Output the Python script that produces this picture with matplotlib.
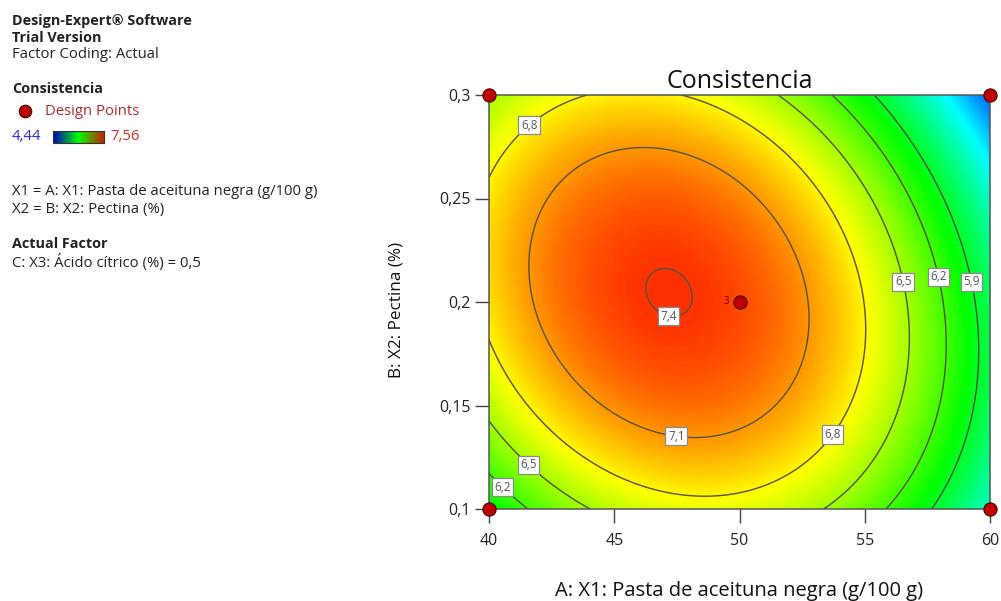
import matplotlib
matplotlib.use('Agg')
import matplotlib.pyplot as plt
import numpy as np
from matplotlib.colors import LinearSegmentedColormap
from matplotlib.lines import Line2D

plt.rcParams['font.family'] = ['Open Sans', 'DejaVu Sans']

# factor ranges in actual units
x1_range = [40, 60]      # A: X1: pasta de aceituna negra (g/100 g)
x2_range = [0.1, 0.3]    # B: X2: pectina (%)
x3_fixed = 0.5           # C: X3: ácido cítrico (%)

# quadratic model for consistencia, coded factors (A, B in -1..1)
b0 = 7.33
bA = -0.561
bB = -0.024
bAB = -0.296
bAA = -1.02
bBB = -0.65

resp_min, resp_max = 4.44, 7.56
levels = [5.9, 6.2, 6.5, 6.8, 7.1, 7.4]

# design points (the centre point has 3 replicates)
design_x1 = [40, 40, 60, 60, 50]
design_x2 = [0.1, 0.3, 0.1, 0.3, 0.2]
design_reps = [1, 1, 1, 1, 3]

xticks = [40, 45, 50, 55, 60]
yticks = [0.1, 0.15, 0.2, 0.25, 0.3]

# where the contour labels go
label_spots = [(41.6, 0.2855), (47.2, 0.195), (47.5, 0.137), (53.6, 0.137),
               (41.7, 0.123), (40.7, 0.1126), (56.5, 0.2097), (57.9, 0.212),
               (59.2, 0.2097)]

de_cmap = LinearSegmentedColormap.from_list(
    'de', [(0.0, '#0000ff'), (0.14, '#0080ff'), (0.26, '#00ffff'),
           (0.38, '#00ff80'), (0.5, '#00ff00'), (0.625, '#80ff00'),
           (0.75, '#ffff00'), (0.875, '#ff8000'), (1.0, '#ff0000')])
bar_cmap = LinearSegmentedColormap.from_list('bar', ['#0000b8', '#00ff00', '#c82000'])


def comma(v):
    return ('%g' % v).replace('.', ',')


x = np.linspace(x1_range[0], x1_range[1], 401)
y = np.linspace(x2_range[0], x2_range[1], 401)
X, Y = np.meshgrid(x, y)
A = (X - 50) / 10
B = (Y - 0.2) / 0.1
Z = b0 + bA * A + bB * B + bAB * A * B + bAA * A ** 2 + bBB * B ** 2

fig = plt.figure(figsize=(10.01, 6.01), dpi=100)
W, H = 1001, 601

ax = fig.add_axes([489 / W, 1 - 509 / H, 501 / W, 414 / H])
ax.imshow(Z, extent=[40, 60, 0.1, 0.3], origin='lower', aspect='auto',
          cmap=de_cmap, vmin=resp_min, vmax=resp_max, interpolation='bilinear')
cs = ax.contour(X, Y, Z, levels=levels, colors='#55513f', linewidths=1.0)
lbls = ax.clabel(cs, fmt=comma, manual=label_spots, inline=False,
                 fontsize=8.5, colors='#555555')
for t in lbls:
    t.set_rotation(0)
    t.set_bbox(dict(boxstyle='square,pad=0.22', fc='white', ec='#8a8a8a', lw=0.9))

ax.plot(design_x1, design_x2, 'o', ms=9.5, mfc='#c00000', mec='#4a0000',
        mew=0.8, clip_on=False, zorder=6)
for px, py, n in zip(design_x1, design_x2, design_reps):
    if n > 1:
        ax.annotate(str(n), (px, py), xytext=(-7.5, 0), textcoords='offset points',
                    ha='right', va='center', fontsize=7, color='#5a0000')

ax.set_xlim(x1_range)
ax.set_ylim(x2_range)
ax.set_xticks(xticks)
ax.set_yticks(yticks)
ax.set_xticklabels([comma(v) for v in xticks])
ax.set_yticklabels([comma(v) for v in yticks])
ax.tick_params(axis='x', direction='out', length=10, width=1, color='#444444',
               pad=7, labelsize=11.5, labelcolor='#222222')
ax.tick_params(axis='y', direction='out', length=10, width=1, color='#444444',
               pad=3, labelsize=11.5, labelcolor='#222222')
for sp in ax.spines.values():
    sp.set_color('#555555')
    sp.set_linewidth(1.1)

ax.set_title('Consistencia', fontsize=18, color='#111111', pad=5)
ax.set_xlabel('A: X1: Pasta de aceituna negra (g/100 g)', fontsize=14.5, color='#111111')
ax.xaxis.set_label_coords(0.5, -0.175)
ax.xaxis.label.set_va('top')
ax.set_ylabel('B: X2: Pectina (%)', fontsize=12.3, color='#111111')
ax.yaxis.set_label_coords(-0.184, 0.48)
ax.yaxis.label.set_va('center')

# left info panel
txt = '#222222'


def note(xp, yp, s, **kw):
    kw.setdefault('color', txt)
    kw.setdefault('fontsize', 10.7)
    fig.text(xp / W, 1 - yp / H, s, va='center', ha='left', **kw)


note(12, 21, 'Design-Expert® Software', fontweight='bold', fontsize=10.4)
note(12, 38, 'Trial Version', fontweight='bold', fontsize=10.4)
note(12, 55, 'Factor Coding: Actual')
note(12, 89, 'Consistencia', fontweight='bold', fontsize=10.4)
fig.add_artist(Line2D([25 / W], [1 - 111 / H], marker='o', ms=9, mfc='#c00000',
                      mec='#3a0000', mew=0.8, transform=fig.transFigure))
note(45, 111, 'Design Points', color='#b02828')
note(12, 137, comma(resp_min), color='#2a2ad8')
note(110, 137, comma(resp_max), color='#d03030')
cax = fig.add_axes([53 / W, 1 - 143 / H, 51 / W, 12 / H])
cax.imshow(np.linspace(0, 1, 256)[None, :], aspect='auto', cmap=bar_cmap)
cax.set_xticks([])
cax.set_yticks([])
for sp in cax.spines.values():
    sp.set_color('#333333')
note(12, 192, 'X1 = A: X1: Pasta de aceituna negra (g/100 g)')
note(12, 210, 'X2 = B: X2: Pectina (%)')
note(12, 244, 'Actual Factor', fontweight='bold', fontsize=10.4)
note(12, 262, 'C: X3: Ácido cítrico (%) = ' + comma(x3_fixed))

fig.savefig('out.png', dpi=100)
